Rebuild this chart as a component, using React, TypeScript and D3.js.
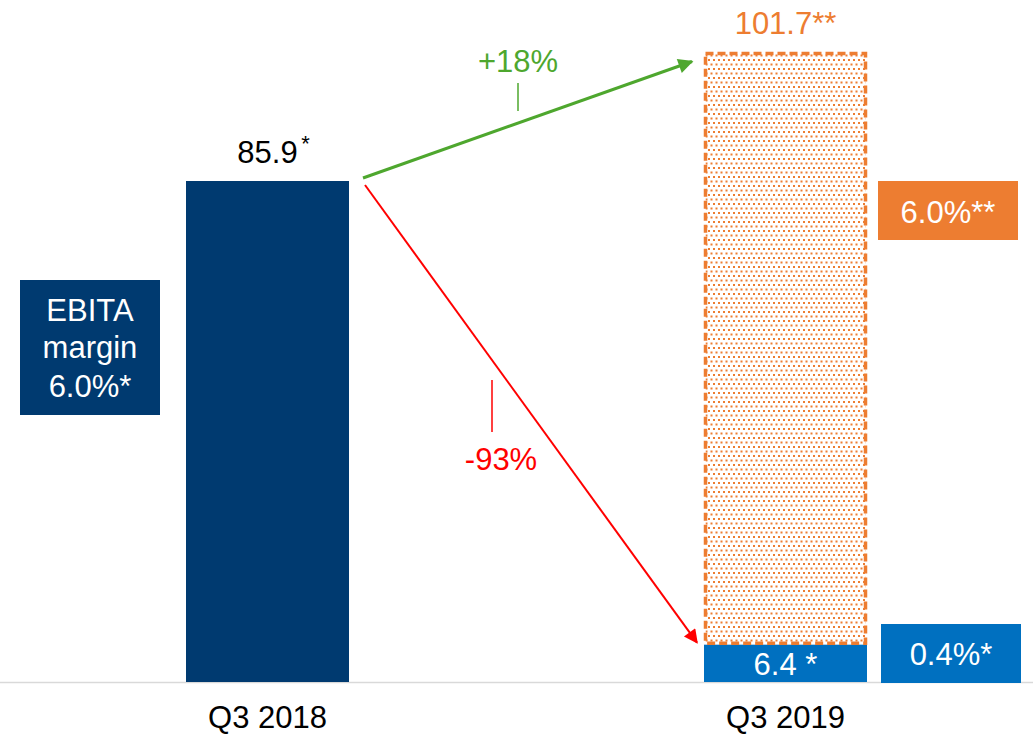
import React from "react";
import * as d3 from "d3";

const categories = ["Q3 2018", "Q3 2019"];
const actualValues = [85.9, 6.4];
const actualLabels = ["85.9", "6.4"];
const targetValue = 101.7;
const targetLabel = "101.7**";
const growthLabel = "+18%";
const declineLabel = "-93%";
const marginLabels = ["6.0%*", "6.0%**", "0.4%*"];

const W = 1033;
const H = 735;
const FONT = "'Liberation Sans', Arial, Helvetica, sans-serif";
const FS = 31;
const NAVY = "#003A70";
const BLUE = "#0070C0";
const ORANGE = "#ED7D31";
const GREEN = "#4EA72E";
const RED = "#FF0000";

export default function App() {
  const y = d3.scaleLinear().domain([0, 85.9]).range([682, 181]);
  const x = d3.scalePoint<string>().domain(categories).range([267.5, 785.5]);
  const bw = 163;

  const x0 = x(categories[0])!;
  const x1 = x(categories[1])!;
  const top1 = y(actualValues[0]);
  const top2 = y(actualValues[1]);
  const orangeBottom = top2 - 1.5;
  const orangeTop = y(actualValues[1] + targetValue) + 2;

  const greenStart: [number, number] = [x0 + bw / 2 + 14, top1 - 3];
  const greenEnd: [number, number] = [x1 - bw / 2 - 12, orangeTop + 8];
  const redStart: [number, number] = [x0 + bw / 2 + 16, top1 + 4];
  const redEnd: [number, number] = [x1 - bw / 2 - 7, top2 - 2];

  return (
    <svg
      width={W}
      height={H}
      style={{ position: "absolute", left: 0, top: 0, background: "#fff" }}
      fontFamily={FONT}
    >
      <defs>
        <pattern id="dots" width={5} height={9} patternUnits="userSpaceOnUse">
          <rect x={0} y={0} width={5} height={9} fill="#fff" />
          <rect x={0.5} y={0.5} width={2} height={2} fill={ORANGE} />
          <rect x={3} y={5} width={2} height={2} fill={ORANGE} />
        </pattern>
        <marker id="ahG" viewBox="0 0 10 10" refX={9} refY={5} markerWidth={6} markerHeight={5} orient="auto" markerUnits="strokeWidth">
          <path d="M0,0 L10,5 L0,10 z" fill={GREEN} />
        </marker>
        <marker id="ahR" viewBox="0 0 10 10" refX={9} refY={5} markerWidth={9} markerHeight={7} orient="auto" markerUnits="strokeWidth">
          <path d="M0,0 L10,5 L0,10 z" fill={RED} />
        </marker>
      </defs>

      {/* baseline */}
      <line x1={0} x2={W} y1={y(0) + 0.5} y2={y(0) + 0.5} stroke="#D9D9D9" strokeWidth={1.5} />

      {/* actual bars */}
      {categories.map((c, i) => (
        <rect
          key={c}
          x={x(c)! - bw / 2}
          y={y(actualValues[i])}
          width={bw}
          height={y(0) - y(actualValues[i])}
          fill={i === 0 ? NAVY : BLUE}
        />
      ))}

      {/* target (dotted) bar */}
      <rect
        x={x1 - bw / 2 + 1.5}
        y={orangeTop}
        width={bw - 3}
        height={orangeBottom - orangeTop}
        fill="url(#dots)"
        stroke={ORANGE}
        strokeWidth={3.5}
        strokeDasharray="8 4"
      />

      {/* value labels */}
      <text x={x0} y={top1 - 18} textAnchor="middle" fontSize={FS} fill="#000">
        {actualLabels[0]}
      </text>
      <text x={x0 + 38} y={top1 - 30} textAnchor="middle" fontSize={22} fill="#000">*</text>
      <text x={x1} y={top2 + 30} textAnchor="middle" fontSize={FS} fill="#fff">
        {actualLabels[1]} *
      </text>
      <text x={x1} y={34} textAnchor="middle" fontSize={FS} fill={ORANGE}>
        {targetLabel}
      </text>

      {/* category labels */}
      {categories.map((c) => (
        <text key={c} x={x(c)!} y={728} textAnchor="middle" fontSize={FS} fill="#000">
          {c}
        </text>
      ))}

      {/* arrows */}
      <line
        x1={greenStart[0]} y1={greenStart[1]} x2={greenEnd[0]} y2={greenEnd[1]}
        stroke={GREEN} strokeWidth={3} markerEnd="url(#ahG)"
      />
      <line x1={518} x2={518} y1={83} y2={111} stroke={GREEN} strokeWidth={1.5} />
      <text x={518} y={72} textAnchor="middle" fontSize={FS} fill={GREEN}>
        {growthLabel}
      </text>

      <line
        x1={redStart[0]} y1={redStart[1]} x2={redEnd[0]} y2={redEnd[1]}
        stroke={RED} strokeWidth={2} markerEnd="url(#ahR)"
      />
      <line x1={492} x2={492} y1={380} y2={432} stroke={RED} strokeWidth={1.5} />
      <text x={501} y={470} textAnchor="middle" fontSize={FS} fill={RED}>
        {declineLabel}
      </text>

      {/* margin boxes */}
      <rect x={20} y={280} width={140} height={135} fill={NAVY} />
      <text x={90} y={321} textAnchor="middle" fontSize={FS} fill="#fff">EBITA</text>
      <text x={90} y={358} textAnchor="middle" fontSize={FS} fill="#fff">margin</text>
      <text x={90} y={397} textAnchor="middle" fontSize={FS} fill="#fff">{marginLabels[0]}</text>

      <rect x={878} y={181} width={140} height={59} fill={ORANGE} />
      <text x={948} y={223} textAnchor="middle" fontSize={FS} fill="#fff">{marginLabels[1]}</text>

      <rect x={881} y={624} width={140} height={59} fill={BLUE} />
      <text x={951} y={665} textAnchor="middle" fontSize={FS} fill="#fff">{marginLabels[2]}</text>
    </svg>
  );
}
